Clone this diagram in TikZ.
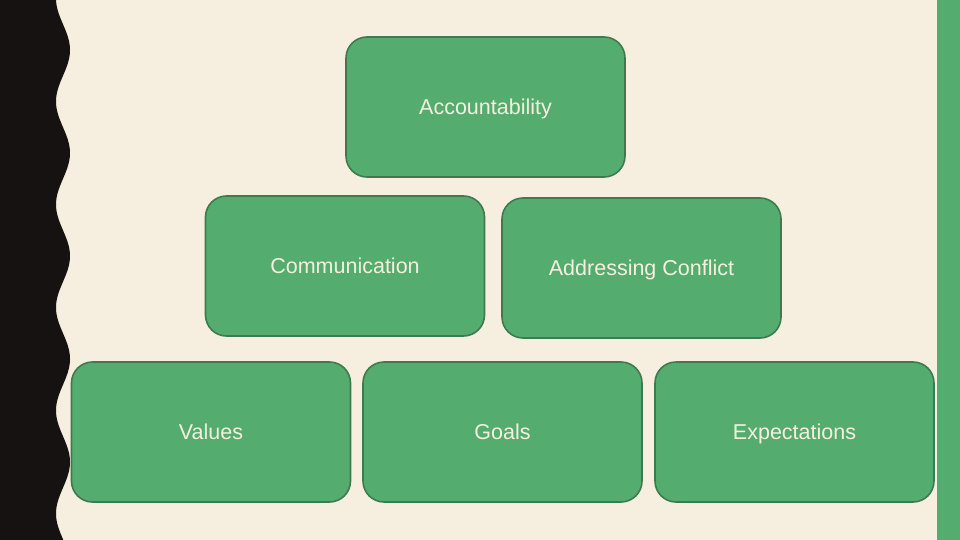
\documentclass[tikz,border=0pt]{standalone}
\usepackage{fontspec}
\setmainfont{Liberation Sans}
\definecolor{cream}{RGB}{246,239,224}
\definecolor{leaf}{RGB}{84,173,110}
\definecolor{leafdark}{RGB}{62,122,78}
\definecolor{ink}{RGB}{22,18,17}
\tikzset{
	tile/.style={draw=leafdark, line width=1.6pt, fill=leaf, rounded corners=21pt,
		minimum width=279pt, minimum height=140pt, inner sep=0pt,
		text height=15.5pt, text depth=0pt,
		text=cream, font=\fontsize{21.5}{24}\selectfont}
}

\begin{document}
\begin{tikzpicture}[x=1pt,y=-1pt]
		\fill[cream] (0,0) rectangle (960,540);
		\useasboundingbox (0,0) rectangle (960,540);
		\fill[ink] (0,0) -- plot[domain=0:540, samples=240] ({63+7*cos((\x-50)/103*360)}, \x) -- (0,540) -- cycle;
		\fill[leaf] (937,0) rectangle (960,540);
		% top row
		\node[tile] (acc) at (485.5,107) {Accountability};
		% middle row
		\node[tile] (comm) at (345,266) {Communication};
		\node[tile] (conf) at (641.5,268) {Addressing Conflict};
		% bottom row
		\node[tile] (val) at (211,432) {Values};
		\node[tile] (goal) at (502.5,432) {Goals};
		\node[tile] (exp) at (794.5,432) {Expectations};
	\end{tikzpicture}
\end{document}
